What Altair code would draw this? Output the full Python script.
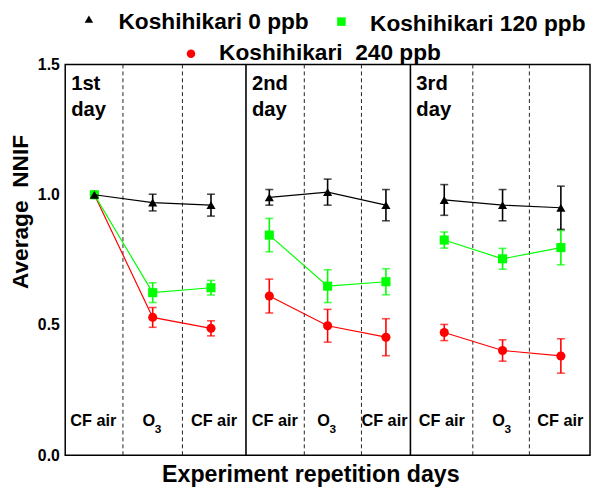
import altair as alt
import pandas as pd

# ---------------- data ----------------
x_index = [1, 2, 3, 4, 5, 6, 7, 8, 9]
day_of_point = [0, 0, 0, 1, 1, 1, 2, 2, 2]
phase_main = ["CF air", "O", "CF air", "CF air", "O", "CF air", "CF air", "O", "CF air"]
phase_sub = ["", "3", "", "", "3", "", "", "3", ""]
day_names = ["1st", "2nd", "3rd"]
day_start = [0.5, 3.6, 6.42]
solid_x = [3.6, 6.42]
dashed_x = [1.49, 2.51, 4.6, 5.58, 7.49, 8.46]

series_names = ["Koshihikari 0 ppb", "Koshihikari 120 ppb", "Koshihikari\u00a0 240 ppb"]
colors = ["#000000", "#00ff00", "#ff0000"]
shapes = ["triangle-up", "square", "circle"]

vals_0 = [1.00, 0.97, 0.96, 0.99, 1.01, 0.96, 0.98, 0.96, 0.95]
err_0 = [0.0, 0.032, 0.042, 0.03, 0.05, 0.06, 0.059, 0.06, 0.083]
vals_120 = [1.00, 0.624, 0.643, 0.845, 0.649, 0.666, 0.826, 0.754, 0.797]
err_120 = [0.0, 0.038, 0.028, 0.064, 0.063, 0.05, 0.031, 0.04, 0.066]
vals_240 = [1.00, 0.529, 0.487, 0.611, 0.497, 0.453, 0.471, 0.402, 0.381]
err_240 = [0.0, 0.038, 0.029, 0.065, 0.063, 0.071, 0.031, 0.041, 0.066]

values = [vals_0, vals_120, vals_240]
errors = [err_0, err_120, err_240]

# ---------------- styling ----------------
FONT = "Liberation Sans"
W, H = 532, 396
PX_PER_UNIT = W / 9.0
# small horizontal nudges (pixels) of the phase labels
label_dx = [-1, -4, 3, 5.5, -4, -1.5, -2.5, -4, -0.5]

xscale = alt.Scale(domain=[0.5, 9.5], nice=False, zero=False)
yscale = alt.Scale(domain=[0, 1.5], nice=False)
xaxis = alt.Axis(title="Experiment repetition days", labels=False, ticks=False, grid=False,
                 domain=False, titleFontSize=23.5, titleFont=FONT, titleFontWeight="bold",
                 titleColor="black", titleX=248.5, titleY=27, titleAlign="center",
                 titleBaseline="alphabetic", titleLimit=1000)
yaxis = alt.Axis(title="Average\u00a0 NNIF", values=[0, 0.5, 1.0, 1.5], format=".1f",
                 ticks=False, grid=False, domain=False, labelFont=FONT, labelFontSize=16,
                 labelFontWeight="bold", labelColor="black", labelPadding=6,
                 titleFont=FONT, titleFontSize=23, titleFontWeight="bold", titleColor="black",
                 titleAngle=270, titleX=-45, titleY=149, titleAlign="center",
                 titleBaseline="middle", titleLimit=1000)


def X(field):
    return alt.X(field, type="quantitative", scale=xscale, axis=xaxis)


def Y(field):
    return alt.Y(field, type="quantitative", scale=yscale, axis=yaxis)


layers = []

# vertical separators
dash_df = pd.DataFrame({"vx": dashed_x})
solid_df = pd.DataFrame({"vx": solid_x})
layers.append(alt.Chart(dash_df).mark_rule(strokeDash=[4, 3], strokeWidth=1, color="#222222")
              .encode(x=X("vx")))
layers.append(alt.Chart(solid_df).mark_rule(strokeWidth=1.6, color="black")
              .encode(x=X("vx")))

# phase labels
ph_df = pd.DataFrame({"x": x_index, "main": phase_main, "sub": phase_sub, "ndx": label_dx})
ph_base = alt.Chart(ph_df).transform_calculate(lx=f"datum.x + datum.ndx / {PX_PER_UNIT}")
layers.append(ph_base.transform_filter("datum.sub == ''").mark_text(
    font=FONT, fontSize=16.5, fontWeight="bold", color="black", baseline="middle", align="center")
    .encode(x=X("lx"), y=alt.value(361), text="main:N"))
layers.append(ph_base.transform_filter("datum.sub != ''").mark_text(
    font=FONT, fontSize=16.5, fontWeight="bold", color="black", baseline="middle", align="center")
    .encode(x=X("lx"), y=alt.value(361), text="main:N"))
layers.append(ph_base.transform_filter("datum.sub != ''").mark_text(
    font=FONT, fontSize=12, fontWeight="bold", color="black", baseline="middle", align="left", dx=6, dy=9)
    .encode(x=X("lx"), y=alt.value(361), text="sub:N"))

# day labels
day_df = pd.DataFrame({"start": day_start, "label": [d + "\nday" for d in day_names]})
layers.append(alt.Chart(day_df).mark_text(
    font=FONT, fontSize=20.5, fontWeight="bold", color="black", align="left",
    baseline="alphabetic", lineBreak="\n", lineHeight=26, dx=6)
    .encode(x=X("start"), y=alt.value(26), text="label:N"))

# series (draw red first, black last)
for k in [2, 1, 0]:
    df = pd.DataFrame({
        "x": x_index,
        "v": values[k],
        "e": errors[k],
        "day": day_of_point,
    })
    df["lo"] = df["v"] - df["e"]
    df["hi"] = df["v"] + df["e"]
    edf = df[df["e"] > 0]
    c = colors[k]
    layers.append(alt.Chart(df).mark_line(strokeWidth=1.2, color=c)
                  .encode(x=X("x"), y=Y("v"), detail="day:N"))
    layers.append(alt.Chart(edf).mark_rule(strokeWidth=1.6, color=c)
                  .encode(x=X("x"), y=Y("lo"), y2="hi"))
    layers.append(alt.Chart(edf).mark_tick(orient="horizontal", size=8, thickness=1.6, color=c)
                  .encode(x=X("x"), y=Y("lo")))
    layers.append(alt.Chart(edf).mark_tick(orient="horizontal", size=8, thickness=1.6, color=c)
                  .encode(x=X("x"), y=Y("hi")))
    layers.append(alt.Chart(df).mark_point(shape=shapes[k], filled=True, size=85, opacity=1, color=c)
                  .encode(x=X("x"), y=Y("v")))

# manual legend (pixel layout relative to the plot area)
legend_layout = [
    {"sx": 24, "sy": -46, "tx": 54, "ty": -43.5},
    {"sx": 280, "sy": -43.5, "tx": 309, "ty": -41},
    {"sx": 127.5, "sy": -11, "tx": 156, "ty": -12},
]
leg_base = pd.DataFrame({"dummy": [0]})
for k in range(3):
    L = legend_layout[k]
    layers.append(alt.Chart(leg_base).mark_point(shape=shapes[k], filled=True, size=75, opacity=1,
                                                  color=colors[k])
                  .encode(x=alt.value(L["sx"]), y=alt.value(L["sy"])))
    layers.append(alt.Chart(leg_base).mark_text(font=FONT, fontSize=23, fontWeight="bold",
                                                 color="black", align="left", baseline="middle",
                                                 limit=1000)
                  .encode(x=alt.value(L["tx"]), y=alt.value(L["ty"]), text=alt.value(series_names[k])))

chart = alt.layer(*layers).properties(
    width=W, height=H,
    autosize=alt.AutoSizeParams(type="none"),
    padding={"left": 58, "top": 54, "right": 2, "bottom": 32},
    background="white",
).configure_view(stroke="black", strokeWidth=1.5)

chart.save("out.html", embed_options={"renderer": "svg", "actions": False})
